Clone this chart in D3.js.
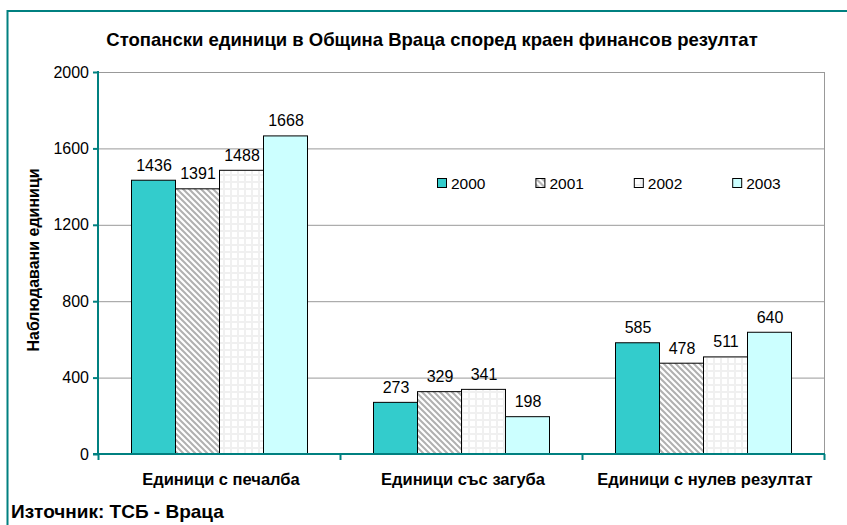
<!DOCTYPE html>
<html lang="bg">
<head>
    <meta charset="UTF-8">
    <title>Стопански единици</title>
    <style>
        body { margin: 0; background: #fff; }
        svg { display: block; font-family: "Liberation Sans", Arial, sans-serif; }
        .tick text { font-size: 16px; fill: #000; }
        .bold { font-weight: bold; }
    </style>
</head>
<body>
    <svg></svg>
    <script src="https://cdn.jsdelivr.net/npm/d3@7"></script>
    <script>
        var categories = ['Единици с печалба', 'Единици със загуба', 'Единици с нулев резултат']
        var years = ['2000', '2001', '2002', '2003']
        var v2000 = [1436, 273, 585]
        var v2001 = [1391, 329, 478]
        var v2002 = [1488, 341, 511]
        var v2003 = [1668, 198, 640]
        var yTicks = [0, 400, 800, 1200, 1600, 2000]

        var series = [v2000, v2001, v2002, v2003]

        var W = 847, H = 525
        var svg = d3.select('svg').attr('width', W).attr('height', H)

        // шарки за 2001 и 2002
        var defs = svg.append('defs')
        var hatch = defs.append('pattern')
            .attr('id', 'hatch')
            .attr('patternUnits', 'userSpaceOnUse')
            .attr('width', 6).attr('height', 6)
        hatch.append('rect').attr('width', 6).attr('height', 6).attr('fill', '#fff')
        hatch.append('path')
            .attr('d', 'M-1,5 L1,7 M0,0 L6,6 M5,-1 L7,1')
            .attr('stroke', '#b0b0b0').attr('stroke-width', 2)

        var grid = defs.append('pattern')
            .attr('id', 'grid')
            .attr('patternUnits', 'userSpaceOnUse')
            .attr('width', 7).attr('height', 7)
        grid.append('rect').attr('width', 7).attr('height', 7).attr('fill', '#f0f0f0')
        grid.append('rect').attr('x', 1).attr('y', 1).attr('width', 5).attr('height', 5).attr('fill', '#fff')

        var fills = ['#33cccc', 'url(#hatch)', 'url(#grid)', '#ccffff']

        // рамка
        svg.append('path')
            .attr('d', 'M7.5,' + H + ' L7.5,11 L' + W + ',11')
            .attr('fill', 'none').attr('stroke', '#008080').attr('stroke-width', 2)

        svg.append('text')
            .attr('class', 'bold')
            .attr('x', 432).attr('y', 46)
            .attr('text-anchor', 'middle')
            .style('font-size', '18.5px')
            .text('Стопански единици в Община Враца според краен финансов резултат')

        var pLeft = 98, pRight = 824, pTop = 72, pBottom = 454

        var x0 = d3.scaleBand().domain(d3.range(categories.length)).range([pLeft, pRight])
        // 33px празно от всяка страна на групата
        var x1 = d3.scaleBand().domain(d3.range(years.length))
            .range([33, x0.bandwidth() - 33])

        var y = d3.scaleLinear().domain([0, 2000]).range([pBottom, pTop])

        // мрежа
        svg.append('g')
            .selectAll('line')
            .data(yTicks.filter(function (d) { return d > 0 }))
            .enter()
            .append('line')
            .attr('x1', pLeft).attr('x2', pRight)
            .attr('y1', function (d) { return y(d) + 0.5 })
            .attr('y2', function (d) { return y(d) + 0.5 })
            .attr('stroke', '#999').attr('stroke-width', 1)
        svg.append('line')
            .attr('x1', pRight + 0.5).attr('x2', pRight + 0.5)
            .attr('y1', pTop).attr('y2', pBottom)
            .attr('stroke', '#999')

        // стълбове
        var groups = svg.append('g')
            .selectAll('g')
            .data(series)
            .enter()
            .append('g')
            .attr('fill', function (d, i) { return fills[i] })

        groups.each(function (vals, si) {
            var g = d3.select(this)
            g.selectAll('rect')
                .data(vals)
                .enter()
                .append('rect')
                .attr('x', function (d, ci) { return x0(ci) + x1(si) + 0.5 })
                .attr('y', function (d) { return y(d) + 0.5 })
                .attr('width', x1.bandwidth())
                .attr('height', function (d) { return pBottom - y(d) })
                .attr('stroke', '#000').attr('stroke-width', 1)
            g.selectAll('text')
                .data(vals)
                .enter()
                .append('text')
                .attr('x', function (d, ci) { return x0(ci) + x1(si) + x1.bandwidth() / 2 + 1 })
                .attr('y', function (d) { return y(d) - 9 })
                .attr('text-anchor', 'middle')
                .attr('fill', '#000')
                .style('font-size', '16px')
                .text(function (d) { return d })
        })

        // оси
        var yAxis = d3.axisLeft(y).tickValues(yTicks).tickFormat(d3.format('d'))
            .tickSize(5).tickPadding(4)
        var gy = svg.append('g')
            .attr('transform', 'translate(' + pLeft + ',0)')
            .call(yAxis)
        gy.select('.domain').remove()
        gy.selectAll('.tick line').attr('stroke', '#008080').attr('stroke-width', 2)
        svg.append('line')
            .attr('x1', pLeft).attr('x2', pLeft)
            .attr('y1', pTop - 1).attr('y2', pBottom + 1)
            .attr('stroke', '#008080').attr('stroke-width', 2)

        var xAxis = d3.axisBottom(d3.scaleLinear().domain([0, 3]).range([pLeft, pRight]))
            .ticks(3).tickSize(6).tickFormat('')
        var gx = svg.append('g')
            .attr('transform', 'translate(0,' + pBottom + ')')
            .call(xAxis)
        gx.select('.domain').remove()
        gx.selectAll('.tick line').attr('stroke', '#008080').attr('stroke-width', 2)
        svg.append('line')
            .attr('x1', pLeft - 5).attr('x2', pRight + 1)
            .attr('y1', pBottom).attr('y2', pBottom)
            .attr('stroke', '#008080').attr('stroke-width', 2)

        svg.append('g')
            .selectAll('text')
            .data(categories)
            .enter()
            .append('text')
            .attr('class', 'bold')
            .attr('x', function (d, i) { return x0(i) + x0.bandwidth() / 2 + 2 })
            .attr('y', 485)
            .attr('text-anchor', 'middle')
            .style('font-size', '16.5px')
            .text(function (d) { return d })

        svg.append('text')
            .attr('class', 'bold')
            .attr('transform', 'translate(39,260) rotate(-90)')
            .attr('text-anchor', 'middle')
            .style('font-size', '16px')
            .text('Наблюдавани единици')

        // легенда
        var legend = svg.append('g')
            .selectAll('g')
            .data(years)
            .enter()
            .append('g')
            .attr('transform', function (d, i) { return 'translate(' + (437 + i * 98.4) + ',178)' })
        legend.append('rect')
            .attr('x', 0.5).attr('y', 0.5)
            .attr('width', 9).attr('height', 9)
            .attr('fill', function (d, i) { return fills[i] })
            .attr('stroke', '#000')
        legend.append('text')
            .attr('x', 14).attr('y', 11)
            .style('font-size', '15.5px')
            .text(function (d) { return d })

        svg.append('text')
            .attr('class', 'bold')
            .attr('x', 11).attr('y', 518)
            .style('font-size', '19px')
            .text('Източник: ТСБ - Враца')
    </script>
</body>
</html>
